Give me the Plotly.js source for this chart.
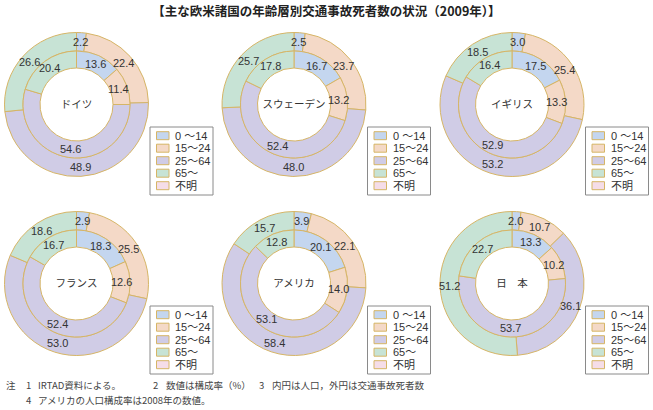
<!DOCTYPE html>
<html><head><meta charset="utf-8">
<script src="https://cdn.plot.ly/plotly-3.0.1.min.js"></script>
<style>html,body{margin:0;padding:0;background:#fff}#chart{width:653px;height:410px}</style>
</head><body><div id="chart"></div>
<script>
// ---- data ----
const ageGroups = ['0 ～14', '15～24', '25～64', '65～', '不明'];
const countries = ['ドイツ', 'スウェーデン', 'イギリス', 'フランス', 'アメリカ', '日　本'];
// inner ring = population share (%), outer ring = traffic deaths share (%)
const germanyPop = [13.6, 11.4, 54.6, 20.4];
const germanyDeaths = [2.2, 22.4, 48.9, 26.6];
const swedenPop = [16.7, 13.2, 52.4, 17.8];
const swedenDeaths = [2.5, 23.7, 48.0, 25.7];
const ukPop = [17.5, 13.3, 52.9, 16.4];
const ukDeaths = [3.0, 25.4, 53.2, 18.5];
const francePop = [18.3, 12.6, 52.4, 16.7];
const franceDeaths = [2.9, 25.5, 53.0, 18.6];
const usaPop = [20.1, 14.0, 53.1, 12.8];
const usaDeaths = [3.9, 22.1, 58.4, 15.7];
const japanPop = [13.3, 10.2, 53.7, 22.7];
const japanDeaths = [2.0, 10.7, 36.1, 51.2];

const popSets = [germanyPop, swedenPop, ukPop, francePop, usaPop, japanPop];
const deathSets = [germanyDeaths, swedenDeaths, ukDeaths, franceDeaths, usaDeaths, japanDeaths];

// ---- style ----
const W = 653, H = 410;
const sliceColors = ['#c4d6ef', '#f4d9c7', '#d0cce6', '#c7e3d5', '#f5dde8'];
const edgeColor = '#d6b566';
const colX = [76.5, 294, 512];
const rowY = [104.5, 283.5];
const R_OUT = 72, R_MID = 53.5, R_HOLE = 36.5;
const txtFont = {family: 'Liberation Sans, Arial, sans-serif', size: 11, color: '#333'};
const cjk = 'Noto Sans CJK JP, sans-serif';

const px = x => x / W;
const py = y => 1 - y / H;

const traces = [];
const shapes = [];
const annotations = [];

// value labels placed at the middle of each ring, on each slice's bisector
function ringLabels(vals, cx, cy, rMid) {
  const total = vals.reduce((a, b) => a + b, 0);
  let cum = 0;
  vals.forEach(v => {
    const th = 2 * Math.PI * (cum + v / 2) / total;
    cum += v;
    annotations.push({xref: 'paper', yref: 'paper',
      x: px(cx + rMid * Math.sin(th)), y: py(cy - rMid * Math.cos(th)),
      xanchor: 'center', yanchor: 'middle', showarrow: false,
      text: v.toFixed(1), font: txtFont});
  });
}

countries.forEach((name, i) => {
  const cx = colX[i % 3], cy = rowY[Math.floor(i / 3)];
  const cats = ageGroups.slice(0, 4);
  const colors = sliceColors.slice(0, 4);
  const common = {
    type: 'pie', labels: cats, sort: false, direction: 'clockwise', rotation: 0,
    marker: {colors: colors, line: {color: edgeColor, width: 1}},
    textinfo: 'none', hoverinfo: 'skip', showlegend: false
  };
  traces.push(Object.assign({}, common, {
    values: deathSets[i], hole: R_MID / R_OUT,
    domain: {x: [px(cx - R_OUT), px(cx + R_OUT)], y: [py(cy + R_OUT), py(cy - R_OUT)]}
  }));
  traces.push(Object.assign({}, common, {
    values: popSets[i], hole: R_HOLE / R_MID,
    domain: {x: [px(cx - R_MID), px(cx + R_MID)], y: [py(cy + R_MID), py(cy - R_MID)]},
    title: {text: name, position: 'middle center', font: {family: cjk, size: 10.5, color: '#333'}}
  }));
  ringLabels(deathSets[i], cx, cy, (R_OUT + R_MID) / 2);
  ringLabels(popSets[i], cx, cy, (R_MID + R_HOLE) / 2);

  // legend box
  shapes.push({type: 'rect', xref: 'paper', yref: 'paper',
    x0: px(cx + 73.5), x1: px(cx + 136.5), y0: py(cy + 90.5), y1: py(cy + 22.5),
    line: {color: '#8a8a8a', width: 1}, fillcolor: '#fff'});
  ageGroups.forEach((g, k) => {
    const yy = cy + 31.2 + k * 12.5;
    shapes.push({type: 'rect', xref: 'paper', yref: 'paper',
      x0: px(cx + 80), x1: px(cx + 92.5), y0: py(yy + 4), y1: py(yy - 4),
      line: {color: edgeColor, width: 1}, fillcolor: sliceColors[k]});
    annotations.push({xref: 'paper', yref: 'paper', x: px(cx + 96.5), y: py(yy),
      xanchor: 'left', yanchor: 'middle', showarrow: false, text: g,
      font: {family: 'Liberation Sans, Noto Sans CJK JP, sans-serif', size: 11, color: '#333'}});
  });
});

// notes
const noteFont = {family: cjk, size: 9.5, color: '#444'};
const notes = [
  [5, 385, '注'], [25, 385, '1'], [37, 385, 'IRTAD資料による。'],
  [152, 385, '2'], [165, 385, '数値は構成率（%）'],
  [258, 385, '3'], [271, 385, '内円は人口，外円は交通事故死者数'],
  [25, 399.5, '4'], [37, 399.5, 'アメリカの人口構成率は2008年の数値。']
];
notes.forEach(n => annotations.push({xref: 'paper', yref: 'paper', x: px(n[0]), y: py(n[1]),
  xanchor: 'left', yanchor: 'middle', showarrow: false, text: n[2], font: noteFont, borderpad: 0}));

const layout = {
  width: W, height: H, margin: {l: 0, r: 0, t: 0, b: 0},
  paper_bgcolor: '#fff',
  title: {text: '<b>【主な欧米諸国の年齢層別交通事故死者数の状況（2009年）】</b>', x: 0.5, xanchor: 'center',
    y: py(12), yanchor: 'middle', font: {family: cjk, size: 12.5, color: '#222'}},
  shapes: shapes, annotations: annotations
};
Plotly.newPlot('chart', traces, layout, {staticPlot: true, displayModeBar: false});
</script></body></html>
